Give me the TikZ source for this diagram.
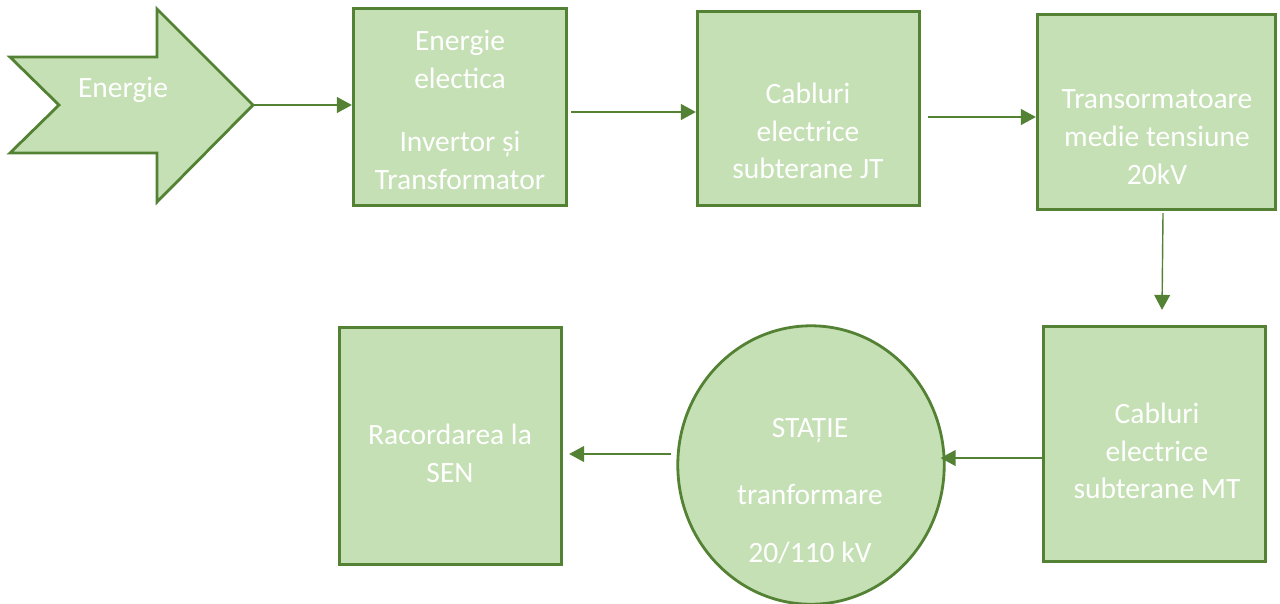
\documentclass[tikz,border=0pt]{standalone}
\usepackage{fontspec}
\setmainfont{Carlito}
\usepackage{xcolor}
\definecolor{verdeclar}{RGB}{197, 224, 180}
\definecolor{verdeinchis}{RGB}{84, 130, 53}
\usetikzlibrary{arrows.meta, shapes.geometric}

\tikzset{
    bloc/.style={draw=verdeinchis, fill=verdeclar, line width=1.6pt, inner sep=0pt},
    txt/.style={text=white, align=center, font=\fontsize{16.8}{21.5}\selectfont},
    conn/.style={-{Triangle[length=8.5pt, width=9pt]}, verdeinchis, line width=0.8pt}
}

\begin{document}
\begin{tikzpicture}[x=0.02cm, y=-0.02cm]

\useasboundingbox (0,0) rectangle (1280,603);

% =====================================================
% RANDUL DE SUS
% =====================================================

% --- Sageata de intrare ---
\fill[verdeclar] (10,57) -- (157,57) -- (157,9) -- (253,105) -- (157,202)
    -- (157,153) -- (10,153) -- (59,105) -- cycle;
\draw[verdeinchis, line width=1.6pt, line join=miter]
    (10,57) -- (157,57) -- (157,9) -- (253,105) -- (157,202)
    -- (157,153) -- (10,153) -- (59,105) -- cycle;
\coordinate (tip) at (253,105);
\node[txt] (energie) at (123,90) {Energie};

% --- Blocuri ---
\node[bloc, rectangle, minimum width=4.27cm, minimum height=3.95cm] (inv) at (460,107) {};
\node[txt] (invtxt) at (460,110) {Energie\\electica\\[0.52cm]Invertor și\\Transformator};

\node[bloc, rectangle, minimum width=4.45cm, minimum height=3.89cm] (jt) at (808.5,108.5) {};
\node[txt] (jttxt) at (808,131) {Cabluri\\electrice\\subterane JT};

\node[bloc, rectangle, minimum width=4.77cm, minimum height=3.91cm] (tm) at (1156.5,112) {};
\node[txt] (tmtxt) at (1157,137) {Transormatoare\\medie tensiune\\20kV};

% =====================================================
% RANDUL DE JOS
% =====================================================

\node[bloc, rectangle, minimum width=4.45cm, minimum height=4.71cm] (mt) at (1154.5,444) {};
\node[txt] (mttxt) at (1157,451) {Cabluri\\electrice\\subterane MT};

\node[bloc, ellipse, minimum width=5.33cm, minimum height=5.57cm] (statie) at (811,465) {};
\node[txt] (statietxt) at (810,491) {STAȚIE\\[0.6cm]tranformare\\[0.4cm]20/110 kV};

\node[bloc, rectangle, minimum width=4.45cm, minimum height=4.75cm] (sen) at (450.5,446) {};
\node[txt] (sentxt) at (450,453) {Racordarea la\\SEN};

% --- Conexiuni ---
\coordinate (c2) at ([shift={(3,5)}]inv.east);
\coordinate (c3) at ([shift={(7,8.5)}]jt.east);
\coordinate (c4) at ([shift={(6.5,2)}]tm.south);
\coordinate (c5) at ([shift={(0,14)}]mt.west);
\coordinate (c6) at ([shift={(-5,-11)}]statie.west);

\draw[conn] (tip) -- (tip -| inv.west);
\draw[conn] (c2) -- (c2 -| jt.west);
\draw[conn] (c3) -- (c3 -| tm.west);
\draw[conn] (c4) -- ([shift={(7.5,-15)}]mt.north);
\draw[conn, shorten >=-0.1cm] (c5) -- (c5 -| statie.east);
\draw[conn, shorten >=0.12cm] (c6) -- (c6 -| sen.east);

\end{tikzpicture}
\end{document}
